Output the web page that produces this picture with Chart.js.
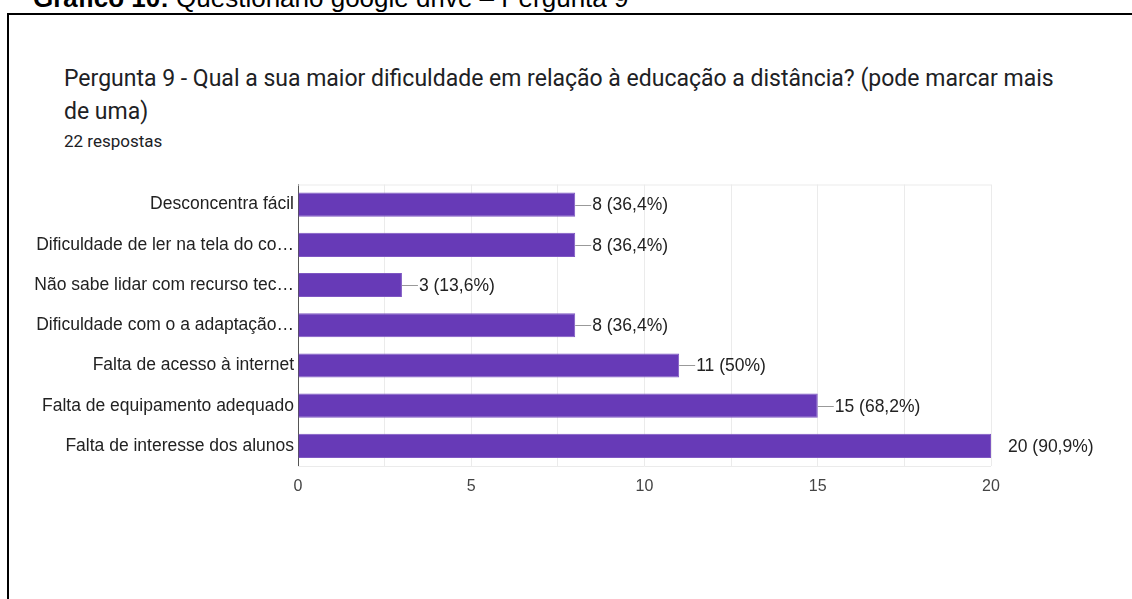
<!DOCTYPE html>
<html>
<head>
<meta charset="utf-8">
<script src="https://cdn.jsdelivr.net/npm/chart.js@4.4.0/dist/chart.umd.min.js"></script>
<style>
  body { margin: 0; background: #fff; width: 1132px; height: 599px; overflow: hidden; position: relative; }
  #heading { position: absolute; left: 33px; top: -17px; font: 26px "Liberation Sans", Arial, sans-serif; line-height: 30px; color: #000; white-space: nowrap; }
  #box { position: absolute; left: 7px; top: 13px; width: 1140px; height: 600px; border-left: 2px solid #000; border-top: 2px solid #000; }
  #title { position: absolute; left: 64px; top: 62px; width: 1015px; font: 23px Roboto, sans-serif; line-height: 33px; color: #202124; }
  #sub { position: absolute; left: 64px; top: 131px; font: 17px Roboto, sans-serif; line-height: 20px; color: #202124; }
  #wrap { position: absolute; left: 10px; top: 170px; width: 1110px; height: 330px; }
</style>
</head>
<body>
<div id="heading"><b>Gráfico 10:</b> Questionário google drive – Pergunta 9</div>
<div id="box"></div>
<div id="title">Pergunta 9 - Qual a sua maior dificuldade em relação à educação a distância? (pode marcar mais de uma)</div>
<div id="sub">22 respostas</div>
<div id="wrap"><canvas id="myChart"></canvas></div>
<script>
// respostas por opção
let categories = [
	"Desconcentra fácil",
	"Dificuldade de ler na tela do co…",
	"Não sabe lidar com recurso tec…",
	"Dificuldade com o a adaptação…",
	"Falta de acesso à internet",
	"Falta de equipamento adequado",
	"Falta de interesse dos alunos",
];
let counts = [8, 8, 3, 8, 11, 15, 20];
let percents = ["36,4%", "36,4%", "13,6%", "36,4%", "50%", "68,2%", "90,9%"];
let xTicks = [0, 5, 10, 15, 20];

const FONT = "'Liberation Sans', Arial, sans-serif";

// rótulos de valor com tracinho, como no Google Forms
const valueLabels = {
	id: "valueLabels",
	afterDatasetsDraw(chart) {
		let ctx = chart.ctx;
		let area = chart.chartArea;
		let meta = chart.getDatasetMeta(0);
		ctx.save();
		meta.data.forEach((bar, i) => {
			let x = bar.x;
			let y = bar.y;
			ctx.save();
			ctx.beginPath();
			ctx.rect(area.left, area.top, area.right - area.left, area.bottom - area.top);
			ctx.clip();
			ctx.strokeStyle = "#999";
			ctx.lineWidth = 1;
			ctx.beginPath();
			ctx.moveTo(x, Math.round(y) + 0.5);
			ctx.lineTo(x + 16, Math.round(y) + 0.5);
			ctx.stroke();
			ctx.restore();
			ctx.fillStyle = "#222";
			ctx.font = "17.5px " + FONT;
			ctx.textAlign = "left";
			ctx.textBaseline = "middle";
			ctx.fillText(`${counts[i]} (${percents[i]})`, x + 17, y + 1);
		});
		// linhas de cima e de baixo da área
		ctx.strokeStyle = "#ebebeb";
		ctx.lineWidth = 1;
		ctx.beginPath();
		ctx.moveTo(area.left, area.top + 0.5);
		ctx.lineTo(area.right, area.top + 0.5);
		ctx.moveTo(area.left, area.bottom + 0.5);
		ctx.lineTo(area.right, area.bottom + 0.5);
		ctx.stroke();
		ctx.restore();
	},
};

let ctx = document.getElementById("myChart").getContext("2d");
let myChart = new Chart(ctx, {
	type: "bar",
	data: {
		labels: categories,
		datasets: [
			{
				data: counts,
				backgroundColor: "#673ab7",
				borderColor: "#7e57c2",
				borderWidth: 1,
				barPercentage: 0.6,
				categoryPercentage: 1,
			},
		],
	},
	options: {
		indexAxis: "y",
		responsive: true,
		maintainAspectRatio: false,
		animation: false,
		layout: { padding: { top: 12, right: 129, bottom: 0, left: 0 } },
		plugins: {
			legend: { display: false },
			tooltip: { enabled: false },
		},
		scales: {
			x: {
				min: 0,
				max: 20,
				afterBuildTicks: (scale) => {
					let t = [];
					for (let v = 0; v <= 20; v += 2.5) t.push({ value: v });
					scale.ticks = t;
				},
				afterFit: (scale) => {
					scale.height = 34;
				},
				grid: { color: "#ebebeb", drawTicks: false },
				border: { display: false },
				ticks: {
					padding: 11,
					autoSkip: false,
					maxRotation: 0,
					color: "#444",
					font: { family: FONT, size: 16 },
					callback: (v) => (xTicks.includes(v) ? String(v) : ""),
				},
			},
			y: {
				afterFit: (scale) => {
					scale.width = 288;
				},
				grid: { display: false, drawTicks: false },
				border: { display: true, color: "#555", width: 1 },
				ticks: {
					padding: 4,
					color: "#222",
					font: { family: FONT, size: 17.5 },
				},
			},
		},
	},
	plugins: [valueLabels],
});
</script>
</body>
</html>
